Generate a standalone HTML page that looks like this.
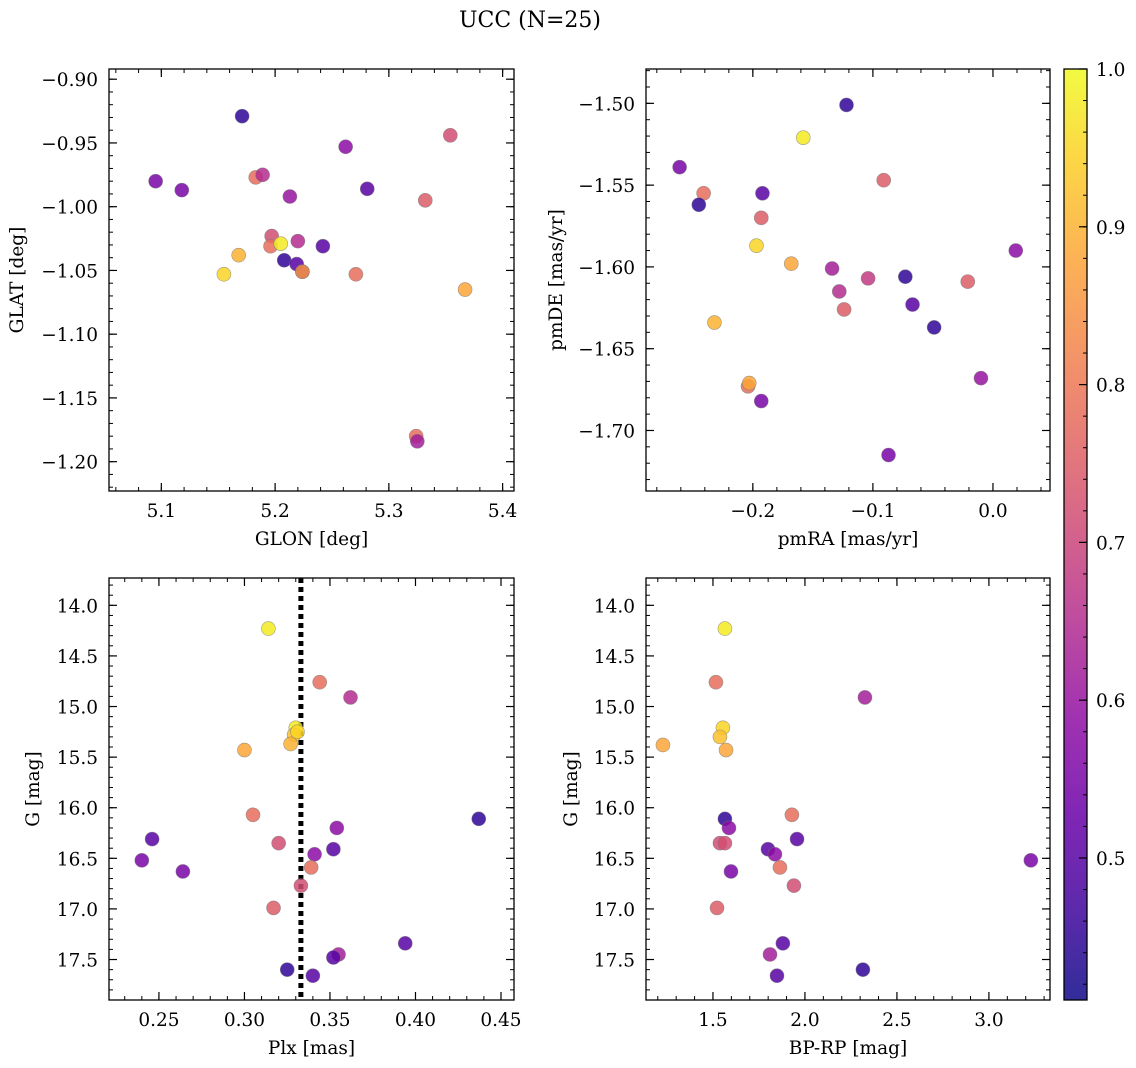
<!DOCTYPE html>
<html><head><meta charset="utf-8"><style>
body{margin:0;background:#fff;}
svg{display:block;font-family:"DejaVu Serif","Liberation Serif",serif;}
</style></head><body>
<svg id="fig" width="1136" height="1068" viewBox="0 0 1136 1068" xmlns="http://www.w3.org/2000/svg">
<rect width="1136" height="1068" fill="#fff"/>
<text x="530" y="27" font-size="22" text-anchor="middle">UCC (N=25)</text>
</svg>
<script>
// Panel 1: GLON vs GLAT
const glon = [5.171,5.354,5.095,5.118,5.262,5.281,5.183,5.189,5.213,5.332,5.197,5.196,5.220,5.242,5.205,5.168,5.155,5.208,5.219,5.224,5.224,5.271,5.367,5.324,5.325];
const glat = [-0.929,-0.944,-0.980,-0.987,-0.953,-0.986,-0.977,-0.975,-0.992,-0.995,-1.023,-1.031,-1.027,-1.031,-1.029,-1.038,-1.053,-1.042,-1.045,-1.051,-1.051,-1.053,-1.065,-1.180,-1.184];
const prob1 = [0.45,0.72,0.55,0.55,0.58,0.5,0.78,0.65,0.6,0.75,0.72,0.78,0.65,0.5,0.98,0.9,0.95,0.45,0.5,0.5,0.85,0.78,0.88,0.78,0.62];
// Panel 2: pmRA vs pmDE
const pmra = [-0.122,-0.158,-0.261,-0.241,-0.192,-0.245,-0.091,-0.193,-0.197,-0.104,0.019,-0.168,-0.134,-0.073,-0.021,-0.128,-0.067,-0.124,-0.232,-0.049,-0.204,-0.203,-0.010,-0.193,-0.087];
const pmde = [-1.501,-1.521,-1.539,-1.555,-1.555,-1.562,-1.547,-1.570,-1.587,-1.607,-1.590,-1.598,-1.601,-1.606,-1.609,-1.615,-1.623,-1.626,-1.634,-1.637,-1.673,-1.671,-1.668,-1.682,-1.715];
const prob2 = [0.45,0.98,0.55,0.78,0.5,0.45,0.75,0.75,0.95,0.68,0.58,0.88,0.62,0.45,0.75,0.65,0.5,0.75,0.9,0.45,0.78,0.88,0.6,0.55,0.55];
// Panel 3: Plx vs G
const plx = [0.314,0.344,0.362,0.330,0.329,0.327,0.331,0.300,0.305,0.437,0.354,0.246,0.320,0.352,0.341,0.240,0.339,0.264,0.333,0.317,0.394,0.355,0.352,0.325,0.340];
const gmag3 = [14.23,14.76,14.91,15.21,15.28,15.37,15.25,15.43,16.07,16.11,16.20,16.31,16.35,16.41,16.46,16.52,16.59,16.63,16.77,16.99,17.34,17.45,17.48,17.60,17.66];
const prob3 = [0.98,0.78,0.65,0.98,0.92,0.9,0.95,0.88,0.78,0.45,0.58,0.5,0.72,0.5,0.58,0.55,0.78,0.55,0.72,0.75,0.5,0.62,0.5,0.45,0.5];
const plxLine = 0.333;
// Panel 4: BP-RP vs G
const bprp = [1.565,1.516,2.326,1.554,1.538,1.228,1.571,1.929,1.565,1.587,1.957,1.538,1.565,1.799,1.837,3.228,1.864,1.598,1.940,1.522,1.880,1.810,2.315,1.848];
const gmag4 = [14.23,14.76,14.91,15.21,15.30,15.38,15.43,16.07,16.11,16.20,16.31,16.35,16.35,16.41,16.46,16.52,16.59,16.63,16.77,16.99,17.34,17.45,17.60,17.66];
const prob4 = [0.98,0.78,0.62,0.95,0.92,0.88,0.88,0.78,0.45,0.58,0.5,0.72,0.72,0.5,0.58,0.55,0.78,0.55,0.72,0.75,0.5,0.62,0.45,0.5];
const cbTicks = [0.5,0.6,0.7,0.8,0.9,1.0];
const vmin = 0.41, vmax = 1.0;

const FS = 18.5;
const NS="http://www.w3.org/2000/svg";
const svg=document.getElementById('fig');
function mk(t,a,p){const e=document.createElementNS(NS,t);for(const k in a)e.setAttribute(k,a[k]);(p||svg).appendChild(e);return e;}
const stops=["#0d0887","#41049d","#6a00a8","#8f0da4","#b12a90","#cc4778","#e16462","#f2844b","#fca636","#fcce25","#f0f921"];
function hx(h){return[parseInt(h.substr(1,2),16),parseInt(h.substr(3,2),16),parseInt(h.substr(5,2),16)];}
function plasma(t){t=Math.max(0,Math.min(1,t));const f=t*10,i=Math.min(9,Math.floor(f)),r=f-i;const a=hx(stops[i]),b=hx(stops[i+1]);
 return 'rgb('+a.map((v,k)=>Math.round(v+(b[k]-v)*r)).join(',')+')';}
function cmap(v){return plasma((v-vmin)/(vmax-vmin));}
function fmt(v,d){const s=Math.abs(v).toFixed(d);return (v<-1e-9?'\u2212':'')+s;}

function panel(o){
 const g=mk('g',{});
 
 
 const X=v=>o.x0+(v-o.xmin)/(o.xmax-o.xmin)*(o.x1-o.x0);
 const Y=o.yinv? v=>o.y0+(v-o.ymin)/(o.ymax-o.ymin)*(o.y1-o.y0) : v=>o.y1-(v-o.ymin)/(o.ymax-o.ymin)*(o.y1-o.y0);
 function ticks(lo,hi,step,cb){const s=Math.ceil(lo/step-1e-6);for(let i=s;i*step<=hi+1e-9;i++)cb(+(i*step).toFixed(6));}
 ticks(o.xmin,o.xmax,o.xminor,v=>{const x=X(v);mk('line',{x1:x,x2:x,y1:o.y1,y2:o.y1-4,stroke:'#000','stroke-width':1},g);mk('line',{x1:x,x2:x,y1:o.y0,y2:o.y0+4,stroke:'#000','stroke-width':1},g);});
 ticks(o.ymin,o.ymax,o.yminor,v=>{const y=Y(v);mk('line',{x1:o.x0,x2:o.x0+4,y1:y,y2:y,stroke:'#000','stroke-width':1},g);mk('line',{x1:o.x1,x2:o.x1-4,y1:y,y2:y,stroke:'#000','stroke-width':1},g);});
 ticks(o.xmin,o.xmax,o.xmajor,v=>{const x=X(v);mk('line',{x1:x,x2:x,y1:o.y1,y2:o.y1-8,stroke:'#000','stroke-width':1.2},g);mk('line',{x1:x,x2:x,y1:o.y0,y2:o.y0+8,stroke:'#000','stroke-width':1.2},g);
  const t=mk('text',{x:x,y:o.y1+26,'font-size':FS,'text-anchor':'middle'},g);t.textContent=fmt(v,o.xd);
  
  });
 ticks(o.ymin,o.ymax,o.ymajor,v=>{const y=Y(v);mk('line',{x1:o.x0,x2:o.x0+8,y1:y,y2:y,stroke:'#000','stroke-width':1.2},g);mk('line',{x1:o.x1,x2:o.x1-8,y1:y,y2:y,stroke:'#000','stroke-width':1.2},g);
  const t=mk('text',{x:o.x0-11,y:y+7,'font-size':FS,'text-anchor':'end'},g);t.textContent=fmt(v,o.yd);
  
  });
 if(o.vline!==undefined){const l=mk('line',{x1:X(o.vline),x2:X(o.vline),y1:o.y0,y2:o.y1,stroke:'#000','stroke-width':5,'stroke-dasharray':'5 4'},g);
  
  }
 o.xs.forEach((v,i)=>{const c=mk('circle',{cx:X(v),cy:Y(o.ys[i]),r:7,fill:cmap(o.c[i]),'fill-opacity':0.85,stroke:'#777','stroke-width':0.6,'stroke-opacity':0.7},g);
  
  });
 const fr=mk('rect',{x:o.x0,y:o.y0,width:o.x1-o.x0,height:o.y1-o.y0,fill:'none',stroke:'#000','stroke-width':1.3},g);
 
 
 const xl=mk('text',{x:(o.x0+o.x1)/2,y:o.y1+54,'font-size':FS,'text-anchor':'middle'},g);xl.textContent=o.xlabel;
 
 
 const yx=o.ylx,yy=(o.y0+o.y1)/2;
 const yl=mk('text',{x:yx,y:yy,'font-size':FS,'text-anchor':'middle',transform:'rotate(-90 '+yx+' '+yy+')'},g);yl.textContent=o.ylabel;
 
 
}
panel({name:'glon-glat-panel',x0:109,x1:514,y0:69,y1:491,xmin:5.054,xmax:5.41,ymin:-1.223,ymax:-0.892,xmajor:0.1,xminor:0.02,ymajor:0.05,yminor:0.01,xd:1,yd:2,xs:glon,ys:glat,c:prob1,xlabel:'GLON [deg]',ylabel:'GLAT [deg]',ylx:23});
panel({name:'pm-panel',x0:646,x1:1050,y0:69,y1:491,xmin:-0.289,xmax:0.0475,ymin:-1.737,ymax:-1.479,xmajor:0.1,xminor:0.02,ymajor:0.05,yminor:0.01,xd:1,yd:2,xs:pmra,ys:pmde,c:prob2,xlabel:'pmRA [mas/yr]',ylabel:'pmDE [mas/yr]',ylx:562});
panel({name:'plx-g-panel',x0:109,x1:514,y0:578,y1:1000,xmin:0.2208,xmax:0.4576,ymin:13.73,ymax:17.90,yinv:true,xmajor:0.05,xminor:0.01,ymajor:0.5,yminor:0.1,xd:2,yd:1,xs:plx,ys:gmag3,c:prob3,vline:plxLine,xlabel:'Plx [mas]',ylabel:'G [mag]',ylx:39});
panel({name:'cmd-panel',x0:646,x1:1050,y0:578,y1:1000,xmin:1.136,xmax:3.332,ymin:13.73,ymax:17.90,yinv:true,xmajor:0.5,xminor:0.1,ymajor:0.5,yminor:0.1,xd:1,yd:1,xs:bprp,ys:gmag4,c:prob4,xlabel:'BP-RP [mag]',ylabel:'G [mag]',ylx:577});

// colorbar
const cb=mk('g',{});


const cx0=1064,cx1=1087,cy0=69,cy1=1000;
const CY=v=>cy1-(v-vmin)/(vmax-vmin)*(cy1-cy0);
const defs=mk('defs',{});
const lg=mk('linearGradient',{id:'cbg',x1:0,y1:1,x2:0,y2:0},defs);
for(let i=0;i<=20;i++){mk('stop',{offset:(i/20),'stop-color':plasma(i/20)},lg);}
mk('rect',{x:cx0,y:cy0,width:cx1-cx0,height:cy1-cy0,fill:'url(#cbg)','fill-opacity':0.85},cb);
mk('rect',{x:cx0,y:cy0,width:cx1-cx0,height:cy1-cy0,fill:'none',stroke:'#000','stroke-width':1.3},cb);
for(let v=0.42;v<=1.0001;v+=0.02){mk('line',{x1:cx1,x2:cx1-4,y1:CY(v),y2:CY(v),stroke:'#000'},cb);}
cbTicks.forEach(v=>{mk('line',{x1:cx1,x2:cx1-8,y1:CY(v),y2:CY(v),stroke:'#000','stroke-width':1.2},cb);
 const t=mk('text',{x:cx1+9,y:CY(v)+7,'font-size':FS},cb);t.textContent=v.toFixed(1);
 
 });
</script>
</body></html>
